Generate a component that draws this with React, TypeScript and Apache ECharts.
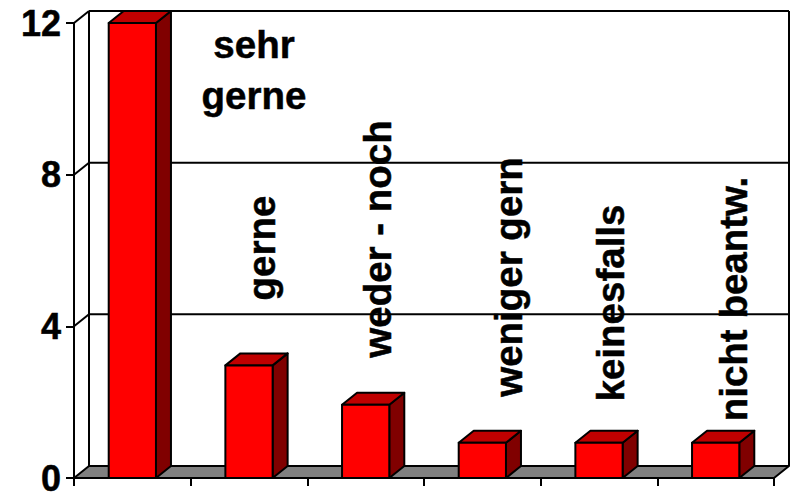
import React, { useEffect, useRef } from "react";
import * as echarts from "echarts";

const categories = ["sehr\ngerne", "gerne", "weder - noch", "weniger gern", "keinesfalls", "nicht beantw."];
const values = [12, 2.97, 1.93, 0.93, 0.93, 0.93];
const yTicks = [0, 4, 8, 12];

// label centres in page pixels, and whether the label is turned upright
const labelX = [254, 261, 377, 508, 610, 733];
const labelY = [70, 248, 239, 277, 303, 299];

const W = 793;
const H = 492;
const DX = 15;
const DY = 12;
const FONT = '"Liberation Sans", Arial, sans-serif';
const STROKE = { stroke: "#000", lineWidth: 2 };

const poly = (points: number[][], fill: string) => ({
  type: "polygon",
  shape: { points },
  style: { fill, ...STROKE, lineJoin: "round" },
});
const seg = (x1: number, y1: number, x2: number, y2: number) => ({
  type: "line",
  shape: { x1, y1, x2, y2 },
  style: { ...STROKE, fill: "none" },
});

export default function App() {
  const ref = useRef<HTMLDivElement>(null);
  useEffect(() => {
    const chart = echarts.init(ref.current!, null, { renderer: "svg", width: W, height: H });
    chart.setOption({
      animation: false,
      backgroundColor: "#fff",
      grid: { left: 74, top: 23, width: 700, height: 455, containLabel: false, outerBoundsMode: "none" },
      xAxis: {
        type: "category",
        data: categories,
        axisLine: { show: true, lineStyle: { color: "#000", width: 2 } },
        axisTick: { show: true, length: 8, alignWithLabel: false, lineStyle: { color: "#000", width: 2 } },
        axisLabel: { show: false },
        splitLine: { show: false },
        z: 5,
      },
      yAxis: {
        type: "value",
        min: 0,
        max: 12,
        interval: 4,
        axisLine: { show: true, lineStyle: { color: "#000", width: 2 } },
        axisTick: { show: true, length: 8, lineStyle: { color: "#000", width: 2 } },
        axisLabel: {
          color: "#000",
          fontSize: 36,
          fontWeight: "bold",
          fontFamily: FONT,
          margin: 13,
          lineHeight: 28,
          textBorderColor: "#000",
          textBorderWidth: 0.5,
        },
        splitLine: { show: false },
        z: 5,
      },
      series: [
        {
          type: "custom",
          clip: false,
          silent: true,
          z: 1,
          data: yTicks,
          encode: { y: 0 },
          renderItem: (_: any, api: any) => {
            const v = api.value(0);
            const [x0, y] = api.coord([0, v]);
            const left = x0 - api.size([1, 0])[0] / 2;
            const right = left + api.size([1, 0])[0] * 6;
            const children: any[] = [];
            if (v === 0) {
              children.push(
                poly([[left, y], [left + DX, y - DY], [right + DX, y - DY], [right, y]], "#808080"),
                seg(left + DX, y - DY, left + DX, api.coord([0, 12])[1] - DY),
                seg(right + DX, y - DY, right + DX, api.coord([0, 12])[1] - DY),
              );
            } else {
              children.push(seg(left, y, left + DX, y - DY), seg(left + DX, y - DY, right + DX, y - DY));
            }
            return { type: "group", children };
          },
        },
        {
          type: "custom",
          clip: false,
          silent: true,
          z: 3,
          data: values.map((v, i) => [i, v]),
          encode: { x: 0, y: 1 },
          renderItem: (_: any, api: any) => {
            const [cx, top] = api.coord([api.value(0), api.value(1)]);
            const [, base] = api.coord([api.value(0), 0]);
            const w = api.size([1, 0])[0] * 0.405;
            const l = cx - w / 2;
            const r = l + w;
            return {
              type: "group",
              children: [
                poly([[r, top], [r + DX, top - DY], [r + DX, base - DY], [r, base]], "#800000"),
                poly([[l, top], [l + DX, top - DY], [r + DX, top - DY], [r, top]], "#c00000"),
                poly([[l, top], [r, top], [r, base], [l, base]], "#ff0000"),
              ],
            };
          },
        },
      ],
      graphic: {
        elements: categories.map((c, i) => ({
          type: "text",
          x: labelX[i],
          y: labelY[i],
          rotation: i === 0 ? 0 : Math.PI / 2,
          z: 10,
          style: {
            text: c,
            fill: "#000",
            stroke: "#000",
            lineWidth: 0.5,
            font: `bold 38.5px ${FONT}`,
            lineHeight: 51,
            align: "center",
            verticalAlign: "middle",
          },
        })),
      },
    });
    return () => chart.dispose();
  }, []);
  return (
    <div
      ref={ref}
      style={{ position: "absolute", left: 0, top: 0, width: W, height: H, overflow: "hidden" }}
    />
  );
}
